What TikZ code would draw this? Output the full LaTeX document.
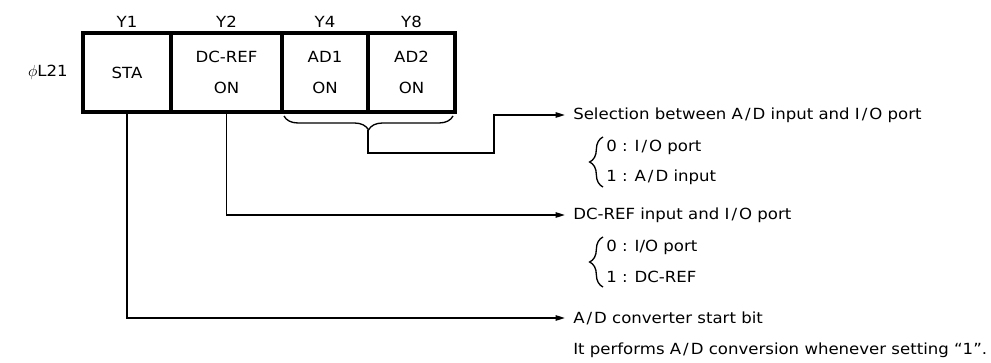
\documentclass[tikz,border=0pt]{standalone}
\usepackage{fontspec}
\setmainfont{DejaVu Sans}[FakeStretch=1.08]
\usetikzlibrary{arrows.meta,positioning,decorations.pathreplacing}
\newcommand{\slh}{\kern1.5pt/\kern1.5pt}
\tikzset{
  cell/.style={draw, line width=2.4pt, minimum height=59.25pt, inner sep=0pt, outer sep=0pt, align=center, font=\fontsize{11.5}{13.8}\selectfont},
  lab/.style={inner sep=0pt, font=\fontsize{11.5}{13.8}\selectfont},
  txt/.style={anchor=west, inner ysep=0pt, inner xsep=6pt, font=\fontsize{11.5}{13.8}\selectfont},
  conn/.style={line width=1.2pt},
  arr/.style={conn, -{Triangle[length=7pt,width=4pt]}},
  curly/.style={decorate, decoration={brace, amplitude=#1}, line width=1pt}
}
\begin{document}
\begin{tikzpicture}[x=0.75pt,y=-0.75pt]
\useasboundingbox (0,0) rectangle (991,363);
\node[cell, minimum width=66pt] (sta) at (127,72.5) {STA};
\node[cell, minimum width=83.25pt, right=0pt of sta] (dcref) {DC-REF\\[9pt]ON};
\node[cell, minimum width=64.5pt, right=0pt of dcref] (adone) {AD1\\[9pt]ON};
\node[cell, minimum width=65.25pt, right=0pt of adone] (adtwo) {AD2\\[9pt]ON};
\node[lab, above=4pt of sta] (yone) {Y1};
\node[lab, above=4pt of dcref] (ytwo) {Y2};
\node[lab, above=4pt of adone] (yfour) {Y4};
\node[lab, above=4pt of adtwo] (yeight) {Y8};
\node[lab] (reg) at (48,72) {$\phi$L21};

\draw[curly=10.5pt, decoration={mirror}] ([xshift=1.5pt,yshift=-3pt]adone.south west) -- ([xshift=-1.5pt,yshift=-3pt]adtwo.south east);
\coordinate (adtip) at (368,130);
\coordinate (bend) at (494,153);

\node[txt] (sel) at (565,115) {Selection between A\slh D input and I\slh O port};
\node[txt] (selzero) at (598,147) {0 : I\slh O port};
\node[txt] (selone) at (598,177) {1 : A\slh D input};
\draw[curly=10pt] (603,187) -- (603,137);
\draw[arr] (adtip) |- (bend) |- (sel.west);

\node[txt] (ref) at (565,215) {DC-REF input and I\slh O port};
\node[txt] (refzero) at (598,247) {0 : I/O port};
\node[txt] (refone) at (598,277) {1 : DC-REF};
\draw[curly=10pt] (603,287) -- (603,237);
\draw[arr] (dcref.south) |- (ref.west);

\node[txt] (start) at (565,318) {A\slh D converter start bit};
\node[txt] (perf) at (565,350) {It performs A\slh D conversion whenever setting ``1''.};
\draw[arr] (sta.south) |- (start.west);
\end{tikzpicture}
\end{document}
